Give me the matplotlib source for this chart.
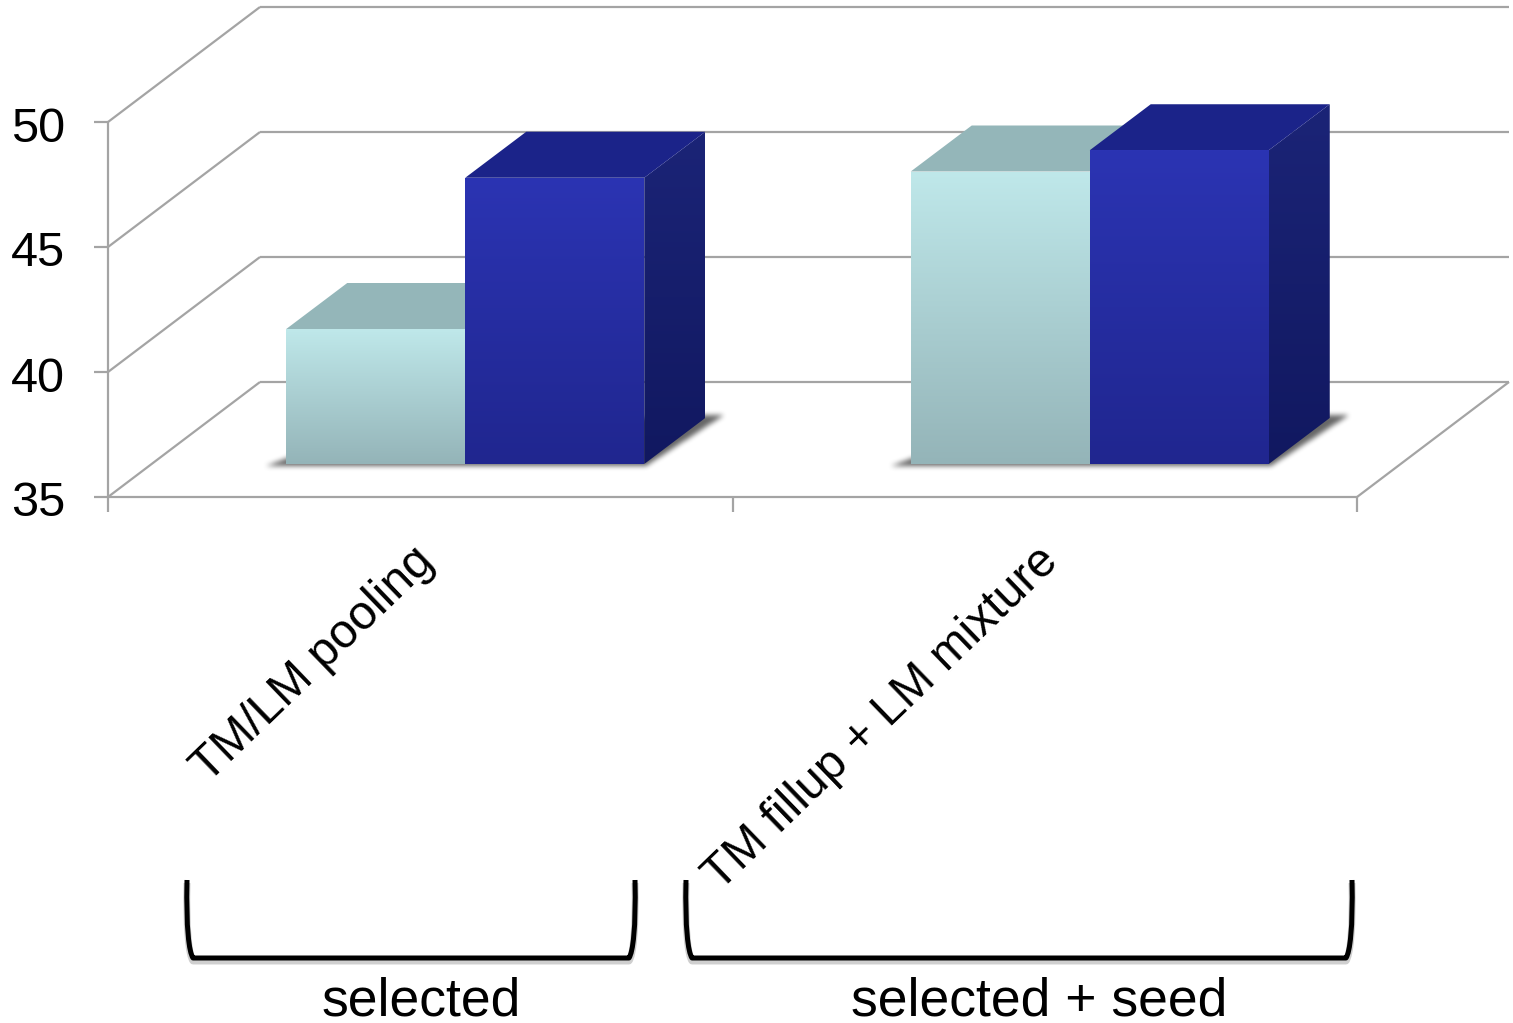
import numpy as np
import matplotlib
matplotlib.use("Agg")
import matplotlib.pyplot as plt
from matplotlib.colors import LinearSegmentedColormap
from matplotlib.patches import Polygon, PathPatch
from matplotlib.path import Path
from matplotlib.transforms import Affine2D, ScaledTranslation

plt.rcParams['font.family'] = ['Liberation Sans', 'DejaVu Sans']

categories = ["TM/LM pooling", "TM fillup + LM mixture"]
light_values = [40.4, 46.7]
dark_values = [46.45, 47.55]
y_ticks = [35, 40, 45, 50]
group_labels = ["selected", "selected + seed"]

W, H = 1513, 1023
fig = plt.figure(figsize=(W / 100, H / 100), dpi=100)
ax = fig.add_axes([108 / W, 1 - 497 / H, (1357 - 108) / W, (497 - 122) / H])
ax.set_xlim(0, 2)
ax.set_ylim(35, 50)
PX = 2 / (1357 - 108)   # data units per pixel, x
PY = 15 / (497 - 122)   # data units per pixel, y

GRID = '#a4a4a4'
LW = 1.6
# 3-D box geometry
wall_dx, wall_dy = 152 * PX, 115 * PY
front_dx, front_dy = 45 * PX, 33 * PY
box_dx, box_dy = 61 * PX, 46 * PY
bar_w = 179 * PX

for s in ax.spines.values():
    s.set_visible(False)
ax.patch.set_visible(False)

line_kw = dict(color=GRID, lw=LW, clip_on=False, zorder=1, solid_capstyle='butt')
for v in y_ticks:
    ax.plot([0, wall_dx], [v, v + wall_dy], **line_kw)
    ax.plot([wall_dx, 2 + wall_dx], [v + wall_dy, v + wall_dy], **line_kw)
ax.plot([0, 0], [35, 50], **line_kw)
ax.plot([0, 2], [35, 35], **line_kw)
ax.plot([2, 2 + wall_dx], [35, 35 + wall_dy], **line_kw)

ax.set_yticks(y_ticks)
ax.set_yticklabels([str(v) for v in y_ticks], fontsize=35, color='black')
ax.tick_params(axis='y', length=10, width=LW, color=GRID, pad=21)
for lab in ax.get_yticklabels():
    lab.set_transform(lab.get_transform() + ScaledTranslation(0, -2 / 100, fig.dpi_scale_trans))
ax.set_xticks([0, 1, 2])
ax.set_xticklabels(['', '', ''])
ax.tick_params(axis='x', which='major', length=11, width=LW, color=GRID)
ax.set_xticks([0.5, 1.5], minor=True)
ax.set_xticklabels(categories, minor=True, fontsize=34.5, rotation=44,
                   ha='right', va='top', rotation_mode='anchor')
ax.tick_params(axis='x', which='minor', length=0, pad=30)
for lab in ax.get_xticklabels(minor=True):
    lab.set_transform(lab.get_transform() + ScaledTranslation(-9 / 100, 0, fig.dpi_scale_trans))


def grad(poly_pts, c_top, c_bot, z):
    pts = np.array(poly_pts)
    poly = Polygon(pts, closed=True, transform=ax.transData, facecolor='none', edgecolor='none')
    ax.add_patch(poly)
    cmap = LinearSegmentedColormap.from_list('g', [c_top, c_bot])
    im = ax.imshow(np.linspace(0, 1, 256)[:, None], cmap=cmap, aspect='auto', origin='upper',
                   extent=[pts[:, 0].min(), pts[:, 0].max(), pts[:, 1].min(), pts[:, 1].max()],
                   zorder=z, interpolation='bilinear')
    im.set_clip_on(True)
    im.set_clip_box(fig.bbox)
    im.set_clip_path(poly)
    return im


def box(x0, value, front, top_c, side, z):
    base = 35 + front_dy
    x = x0 + front_dx
    y1 = value + front_dy
    grad([(x + bar_w, base), (x + bar_w + box_dx, base + box_dy),
          (x + bar_w + box_dx, y1 + box_dy), (x + bar_w, y1)], side[0], side[1], z)
    ax.add_patch(Polygon([(x, y1), (x + box_dx, y1 + box_dy),
                          (x + bar_w + box_dx, y1 + box_dy), (x + bar_w, y1)],
                         closed=True, facecolor=top_c, edgecolor='none', zorder=z, clip_on=False))
    grad([(x, base), (x + bar_w, base), (x + bar_w, y1), (x, y1)], front[0], front[1], z + 0.1)


def blur(a, r):
    kernel = np.ones(2 * r + 1) / (2 * r + 1)
    for _ in range(3):
        a = np.apply_along_axis(lambda m: np.convolve(m, kernel, mode='same'), 0, a)
        a = np.apply_along_axis(lambda m: np.convolve(m, kernel, mode='same'), 1, a)
    return a


def shadow(x_left, x_right):
    """Soft drop shadow on the floor, in pixel offsets from the box base."""
    base = 35 + front_dy
    xl = x_left + front_dx
    xr = x_right + front_dx
    width_px = int(round((xr - xl) / PX))
    pad_l, pad_r, pad_b, pad_t = 50, 130, 24, 75
    xs = np.arange(-pad_l, width_px + pad_r) + 0.5
    ys = np.arange(-pad_b, pad_t) + 0.5
    gx, gy = np.meshgrid(xs, ys)
    shape = Path([(-20, -2), (width_px + 2, -2), (width_px + 80, 49), (width_px + 30, 49), (20, 13), (-20, -2)])
    mask = shape.contains_points(np.c_[gx.ravel(), gy.ravel()]).reshape(gx.shape).astype(float)
    alpha = blur(mask, 2) * 0.6
    rgba = np.zeros(alpha.shape + (4,))
    rgba[..., 3] = alpha
    ax.imshow(rgba, origin='lower', aspect='auto', zorder=2, interpolation='bilinear',
              extent=[xl - pad_l * PX, xl + (width_px + pad_r) * PX, base - pad_b * PY, base + pad_t * PY],
              clip_on=False)


for i in range(len(categories)):
    c = i + 0.5
    x_l = c - bar_w
    shadow(x_l, c + bar_w)
    box(x_l, light_values[i], ('#bfe8ea', '#94b4b8'), '#94b6b9', ('#94b6b9', '#7d9ca0'), 3 + i)
    box(c, dark_values[i], ('#2b34b3', '#20268f'), '#1b2389', ('#1b2477', '#111860'), 3.5 + i)

ax.set_xlim(0, 2)
ax.set_ylim(35, 50)

# group brackets (pixel coordinates of the canvas)
to_px = Affine2D().scale(1, -1).translate(0, H)
def bracket(x0, x1):
    y0, y1 = 880, 958
    verts = [(x0, y0), (x0 - 1, y1 - 30), (x0 + 2, y1 - 6), (x0 + 6, y1),
             (x1 - 6, y1), (x1 - 2, y1 - 6), (x1 + 1, y1 - 30), (x1, y0)]
    codes = [Path.MOVETO, Path.CURVE4, Path.CURVE4, Path.CURVE4, Path.LINETO,
             Path.CURVE4, Path.CURVE4, Path.CURVE4]
    p = Path(verts, codes)
    for off, col, lw in [(3, '#00000030', 5), (0, 'black', 3.6)]:
        tr = Affine2D().translate(0, off) + to_px
        fig.add_artist(PathPatch(p, transform=tr, facecolor='none', edgecolor=col, lw=lw,
                                 capstyle='butt', joinstyle='round'))

bracket(187, 635)
bracket(686, 1352)
for label, x in zip(group_labels, [421, 1039]):
    fig.text(x / W, 1 - 1016 / H, label, fontsize=38.5, ha='center', va='baseline', color='black')

fig.savefig('out.png', dpi=100, facecolor='white')
